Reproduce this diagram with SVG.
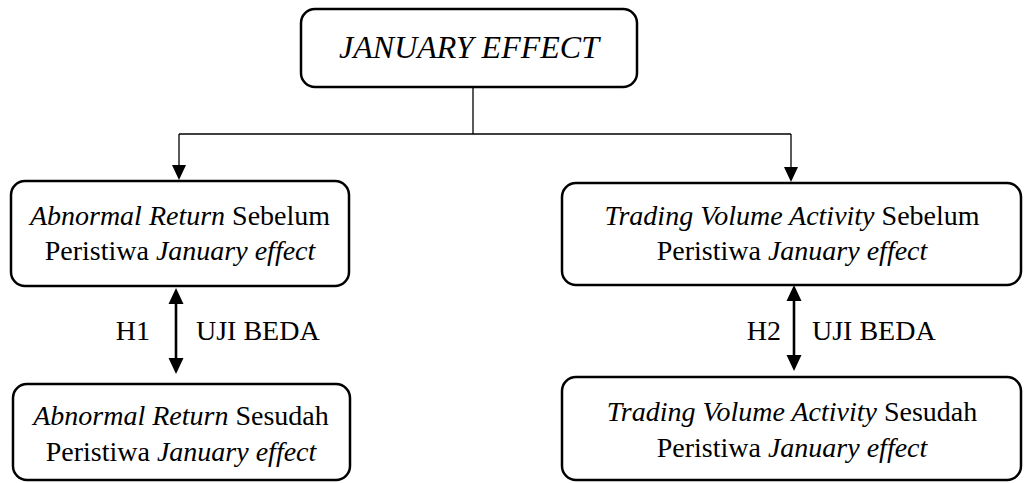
<svg xmlns="http://www.w3.org/2000/svg" width="1029" height="483" viewBox="0 0 1029 483">
<style>
.box{fill:#fff;stroke:#000;stroke-width:2.5}
.t{font-family:"Liberation Serif","Times New Roman",serif;font-size:28px;fill:#000;text-anchor:middle}
.i{font-style:italic}
.l{font-family:"Liberation Serif","Times New Roman",serif;font-size:28px;fill:#000}
.c{stroke:#000;stroke-width:1.3;fill:none}
.d{stroke:#000;stroke-width:2.6;fill:none}
.h{fill:#000}
</style>
<g id="connectors">
<line class="c" x1="473" y1="87" x2="473" y2="134"/>
<line class="c" x1="179" y1="134" x2="791" y2="134"/>
<line class="c" x1="179" y1="134" x2="179" y2="168"/>
<path class="h" d="M172,165 L186,165 L179,180 z"/>
<line class="c" x1="791" y1="134" x2="791" y2="170"/>
<path class="h" d="M784,167 L798,167 L791,182 z"/>
<line class="d" x1="176" y1="302" x2="176" y2="360"/>
<path class="h" d="M168.5,304 L183.5,304 L176,288 z"/>
<path class="h" d="M168.5,358 L183.5,358 L176,374 z"/>
<line class="d" x1="794" y1="299" x2="794" y2="357"/>
<path class="h" d="M786.5,301 L801.5,301 L794,285 z"/>
<path class="h" d="M786.5,355 L801.5,355 L794,371 z"/>
<text class="l" x="150" y="340" text-anchor="end">H1</text>
<text class="l" x="196" y="340">UJI BEDA</text>
<text class="l" x="781" y="340" text-anchor="end">H2</text>
<text class="l" x="812" y="340">UJI BEDA</text>
</g>
<g id="top">
<rect class="box" x="301" y="9" width="336" height="78" rx="14"/>
<text class="t i" x="469" y="58" style="font-size:32px">JANUARY EFFECT</text>
</g>
<g id="ar-before">
<rect class="box" x="11" y="181" width="338" height="105" rx="14"/>
<text class="t" x="180" y="225"><tspan class="i">Abnormal Return</tspan> Sebelum</text>
<text class="t" x="180" y="260">Peristiwa <tspan class="i">January effect</tspan></text>
</g>
<g id="ar-after">
<rect class="box" x="13" y="384" width="337" height="96" rx="14"/>
<text class="t" x="181" y="425"><tspan class="i">Abnormal Return</tspan> Sesudah</text>
<text class="t" x="181" y="461">Peristiwa <tspan class="i">January effect</tspan></text>
</g>
<g id="tva-before">
<rect class="box" x="562" y="183" width="459" height="102" rx="14"/>
<text class="t" x="792" y="225"><tspan class="i">Trading Volume Activity</tspan> Sebelum</text>
<text class="t" x="792" y="260">Peristiwa <tspan class="i">January effect</tspan></text>
</g>
<g id="tva-after">
<rect class="box" x="562" y="377" width="459" height="103" rx="14"/>
<text class="t" x="792" y="421"><tspan class="i">Trading Volume Activity</tspan> Sesudah</text>
<text class="t" x="792" y="457">Peristiwa <tspan class="i">January effect</tspan></text>
</g>
</svg>
